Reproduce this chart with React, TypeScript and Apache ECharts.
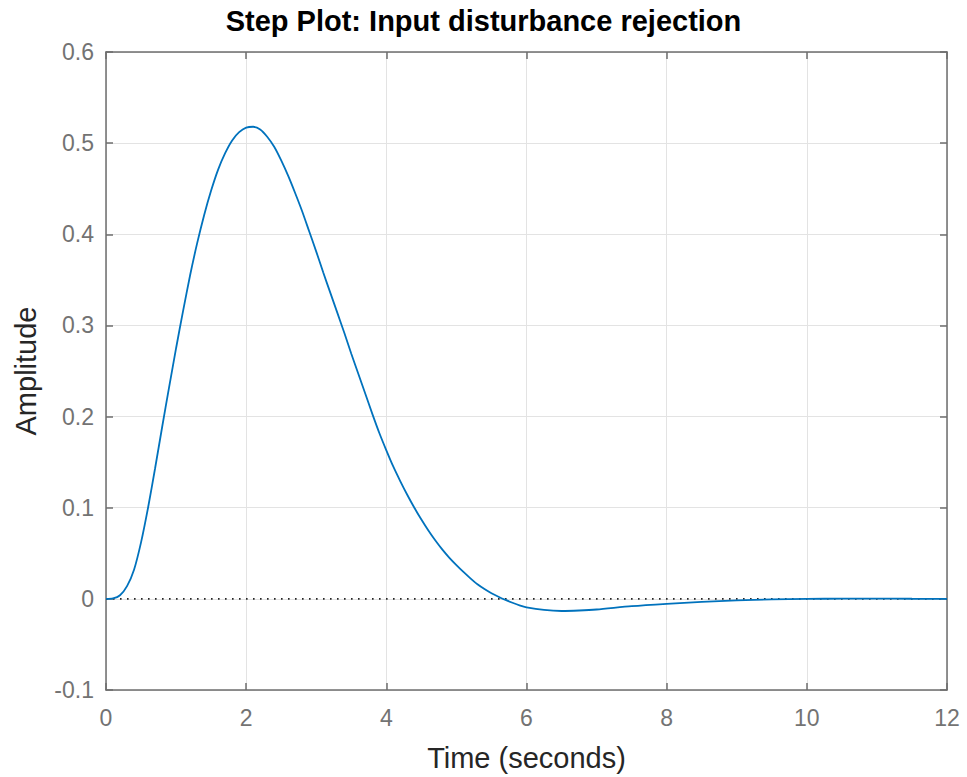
import React, { useEffect, useRef } from "react";
import * as echarts from "echarts";

const titleText = "Step Plot: Input disturbance rejection";
const xName = "Time (seconds)";
const yName = "Amplitude";

const timeValues = [
  0, 0.1, 0.2, 0.3, 0.4, 0.5, 0.6, 0.7, 0.8, 0.9, 1.0, 1.1, 1.2, 1.3, 1.4, 1.5,
  1.6, 1.7, 1.8, 1.9, 2.0, 2.1, 2.2, 2.3, 2.4, 2.5, 2.6, 2.7, 2.8, 2.9, 3.0, 3.1,
  3.2, 3.3, 3.4, 3.5, 3.6, 3.7, 3.8, 3.9, 4.0, 4.1, 4.2, 4.3, 4.4, 4.5, 4.6, 4.7,
  4.8, 4.9, 5.0, 5.1, 5.2, 5.3, 5.4, 5.5, 5.6, 5.7, 5.8, 5.9, 6.0, 6.25, 6.5,
  6.75, 7.0, 7.5, 8.0, 8.5, 9.0, 9.5, 10, 10.5, 11, 11.5, 12,
];
const amplitudeValues = [
  0, 0.0005, 0.004, 0.014, 0.032, 0.062, 0.1, 0.143, 0.188, 0.232, 0.275, 0.316,
  0.355, 0.39, 0.421, 0.448, 0.471, 0.489, 0.503, 0.512, 0.517, 0.518, 0.515,
  0.507, 0.496, 0.481, 0.464, 0.445, 0.425, 0.403, 0.381, 0.358, 0.336, 0.314,
  0.292, 0.269, 0.247, 0.225, 0.203, 0.182, 0.163, 0.145, 0.129, 0.114, 0.1,
  0.087, 0.075, 0.064, 0.054, 0.045, 0.037, 0.0295, 0.0225, 0.016, 0.0108, 0.0062,
  0.0023, -0.0012, -0.0043, -0.0071, -0.0093, -0.0122, -0.0133, -0.0128, -0.0117,
  -0.008, -0.0054, -0.0033, -0.0017, -0.0006, 0.0, 0.0002, 0.0002, 0.0001, 0.0,
];
const steadyStateTimes = [0, 12];
const steadyStateValues = [0, 0];

const FONT = "Liberation Sans";
const AXIS_COLOR = "#6e6e6e";
const LABEL_COLOR = "#737373";
const GRID_COLOR = "#e3e3e3";

export default function App() {
  const ref = useRef<HTMLDivElement>(null);
  useEffect(() => {
    if (!ref.current) return;
    const chart = echarts.init(ref.current, undefined, { renderer: "svg" });
    const curve = timeValues.map((t, i) => [t, amplitudeValues[i]]);
    const zero = steadyStateTimes.map((t, i) => [t, steadyStateValues[i]]);
    const lineStyle = { color: AXIS_COLOR, width: 1.5 };
    const hiddenAxisCommon = {
      axisLine: { show: true, onZero: false, lineStyle },
      axisTick: { show: true, inside: true, length: 7, lineStyle },
      axisLabel: { show: false },
      splitLine: { show: false },
    };
    chart.setOption({
      animation: false,
      backgroundColor: "#ffffff",
      title: {
        text: titleText,
        left: "center",
        top: 1,
        textStyle: { fontFamily: FONT, fontSize: 29, fontWeight: "bold", color: "#000000" },
      },
      grid: { left: 106, right: 20, top: 52, bottom: 80, containLabel: false },
      xAxis: [
        {
          type: "value",
          min: 0,
          max: 12,
          interval: 2,
          name: xName,
          nameLocation: "middle",
          nameGap: 53,
          nameTextStyle: { fontFamily: FONT, fontSize: 29, color: "#262626" },
          axisLine: { show: true, onZero: false, lineStyle },
          axisTick: { show: true, inside: true, length: 7, lineStyle },
          axisLabel: { fontFamily: FONT, fontSize: 23, color: LABEL_COLOR, margin: 16 },
          splitLine: { show: true, lineStyle: { color: GRID_COLOR, width: 1 } },
        },
        { type: "value", position: "top", min: 0, max: 12, interval: 2, ...hiddenAxisCommon },
      ],
      yAxis: [
        {
          type: "value",
          min: -0.1,
          max: 0.6,
          interval: 0.1,
          name: yName,
          nameLocation: "middle",
          nameGap: 66,
          nameRotate: 90,
          nameTextStyle: { fontFamily: FONT, fontSize: 29, color: "#262626" },
          axisLine: { show: true, onZero: false, lineStyle },
          axisTick: { show: true, inside: true, length: 7, lineStyle },
          axisLabel: {
            fontFamily: FONT,
            fontSize: 23,
            color: LABEL_COLOR,
            margin: 12,
            formatter: (v: number) => {
              const r = Math.round(v * 10) / 10;
              return r === 0 ? "0" : r.toFixed(1);
            },
          },
          splitLine: { show: true, lineStyle: { color: GRID_COLOR, width: 1 } },
        },
        { type: "value", position: "right", min: -0.1, max: 0.6, interval: 0.1, ...hiddenAxisCommon },
      ],
      series: [
        {
          type: "line",
          data: zero,
          showSymbol: false,
          lineStyle: { color: "#262626", width: 1.6, type: [1.6, 5.4] },
          z: 2,
        },
        {
          type: "line",
          data: curve,
          smooth: 0.25,
          showSymbol: false,
          lineStyle: { color: "#0072BD", width: 1.8 },
          z: 3,
        },
      ],
    });
    return () => chart.dispose();
  }, []);
  return (
    <div
      ref={ref}
      style={{ position: "fixed", left: 0, top: 0, width: 967, height: 777 }}
    />
  );
}
